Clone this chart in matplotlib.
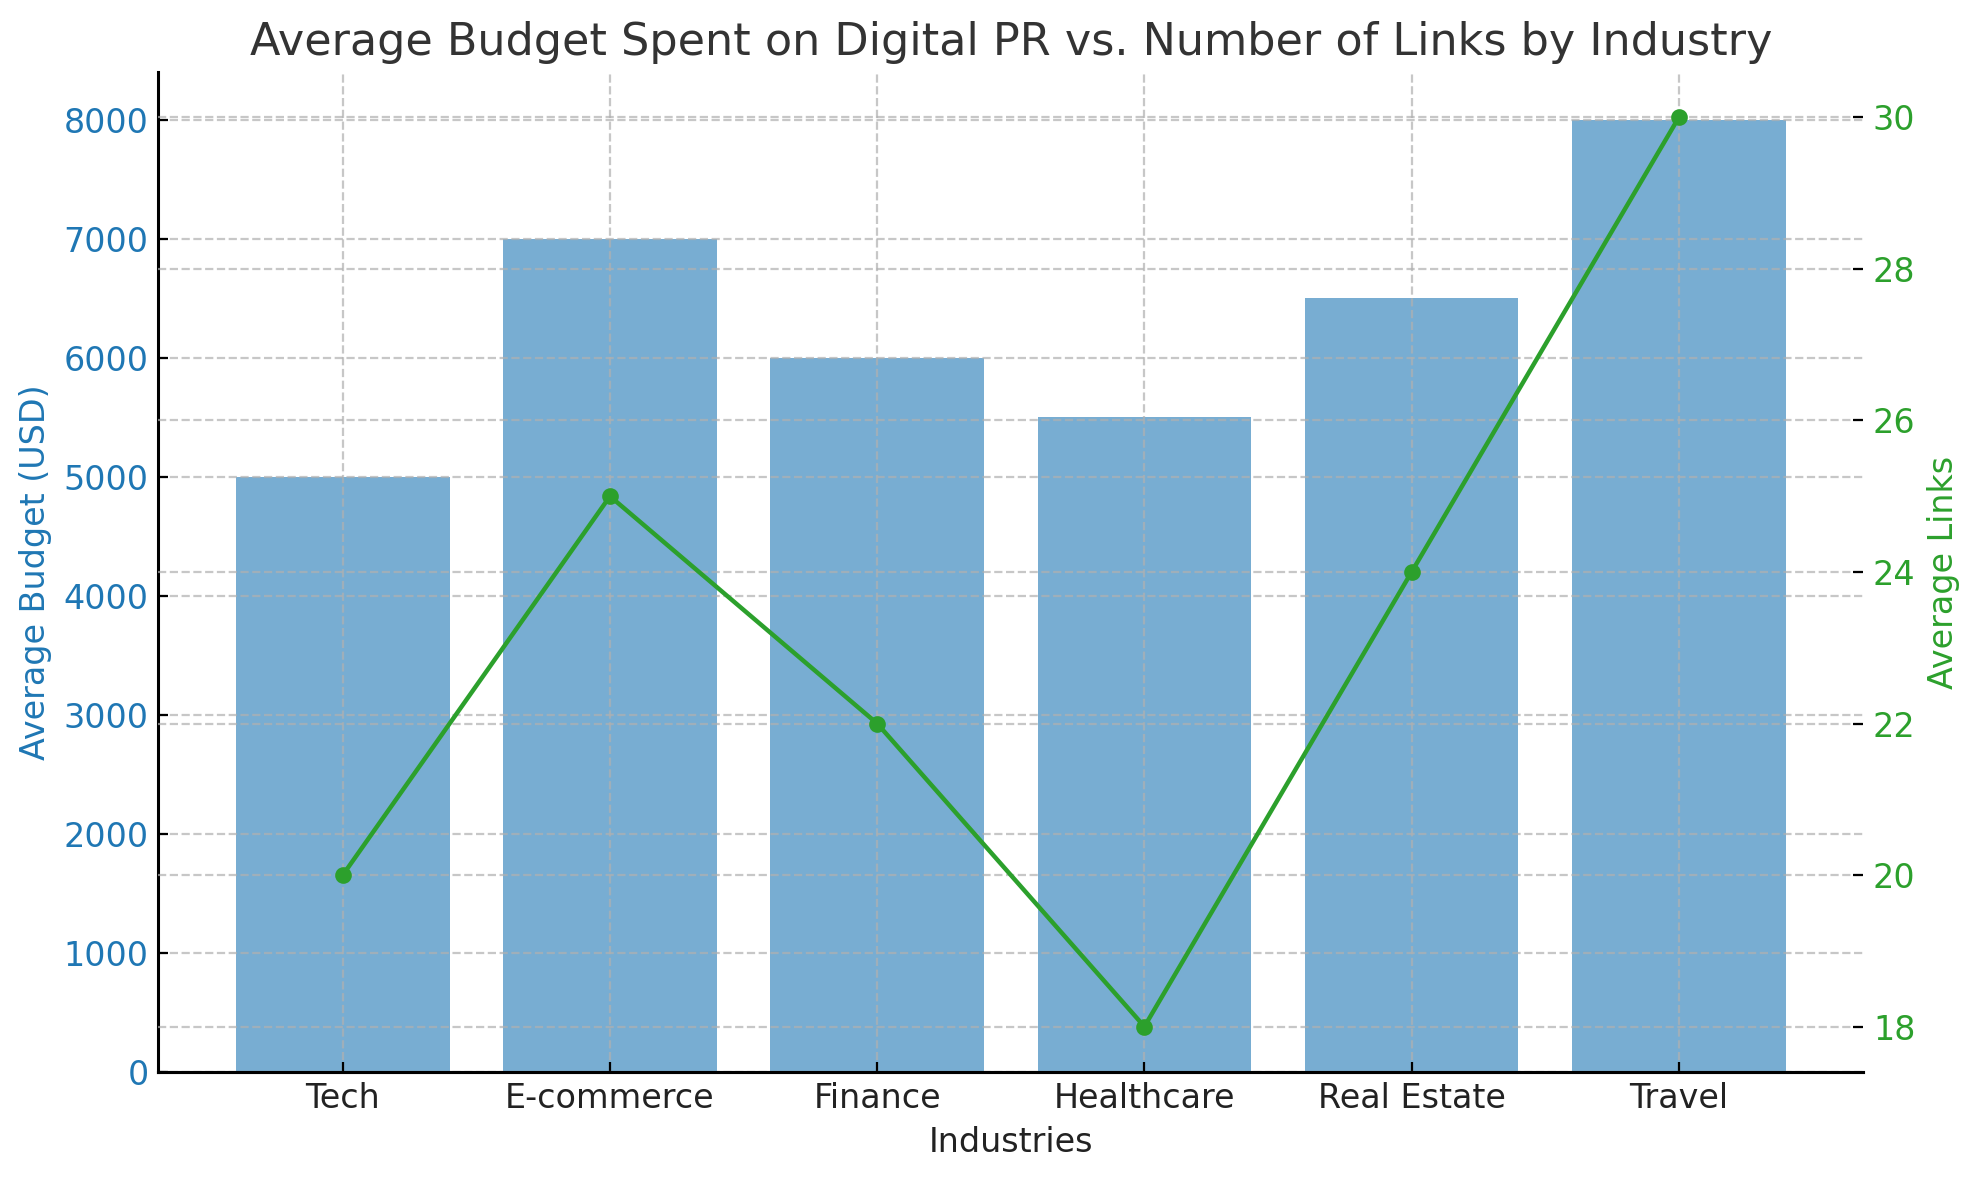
import matplotlib
matplotlib.use('Agg')
import matplotlib.pyplot as plt
import numpy as np

industries = ['Tech', 'E-commerce', 'Finance', 'Healthcare', 'Real Estate', 'Travel']
avg_budget = [5000, 7000, 6000, 5500, 6500, 8000]
avg_links = [20, 25, 22, 18, 24, 30]

fig, ax1 = plt.subplots(figsize=(9.9, 5.9), dpi=200)
fig.subplots_adjust(left=0.080, right=0.941, top=0.939, bottom=0.0915)

x = np.arange(len(industries))
ax1.bar(x, avg_budget, color='tab:blue', alpha=0.6, width=0.8)
ax1.set_xticks(x)
ax1.set_xticklabels(industries, fontsize=12, color='#222222')
ax1.set_xlabel('Industries', fontsize=12, color='#222222')
ax1.set_ylabel('Average Budget (USD)', fontsize=12, color='tab:blue')
ax1.tick_params(axis='y', labelcolor='tab:blue', labelsize=12)
ax1.tick_params(direction='in')
ax1.grid(True, linestyle='--', alpha=0.7)

ax2 = ax1.twinx()
ax2.plot(x, avg_links, color='tab:green', marker='o', linewidth=1.6, markersize=5)
ax2.set_ylabel('Average Links', fontsize=12, color='tab:green')
ax2.tick_params(axis='y', labelcolor='tab:green', labelsize=12, direction='in')
ax2.grid(True, linestyle='--', alpha=0.7)

for a in (ax1, ax2):
    a.spines['top'].set_visible(False)
    a.spines['right'].set_visible(False)
    a.spines['left'].set_linewidth(1.1)
    a.spines['bottom'].set_linewidth(1.1)
ax2.spines['left'].set_visible(False)

ax1.set_title('Average Budget Spent on Digital PR vs. Number of Links by Industry',
              fontsize=16, color='#333333')

fig.savefig('out.png')
